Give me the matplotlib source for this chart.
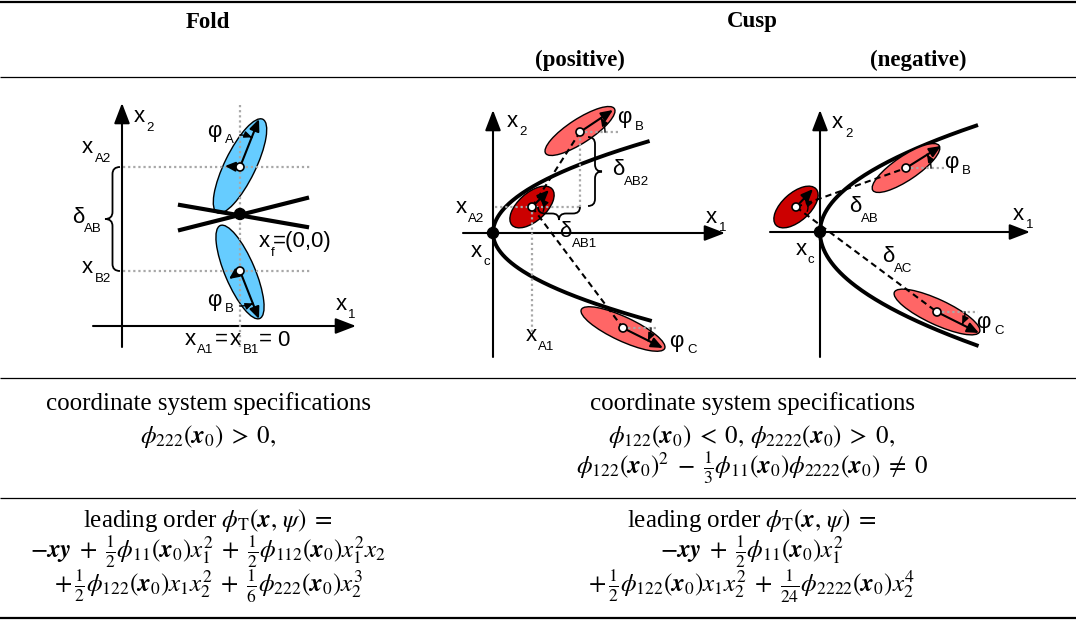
import numpy as np
import matplotlib as mpl
mpl.use("Agg")
import matplotlib.pyplot as plt
from matplotlib.patches import Ellipse, Circle, PathPatch
from matplotlib.path import Path

mpl.rcParams.update({
    "font.family": ["Liberation Serif", "DejaVu Serif"],
    "mathtext.fontset": "stix",
})

SANS = ["Liberation Sans", "DejaVu Sans"]
BLUE = "#66CCFF"
PINK = "#FF6666"
DARKRED = "#CC0000"
GREY = "#A8A8A8"

# ---- table text ----
HEADERS = ["Fold", "Cusp", "(positive)", "(negative)"]
HEADER_XY = [(208, 22), (752, 22), (580, 60), (918, 60)]
RULES_Y = [2, 77, 378, 498, 618]
RULES_W = [1.6, 0.9, 0.9, 0.9, 1.6]

FOLD_COND = ["coordinate system specifications",
             r"$\phi_{222}(\mathbfit{x}_0)\;>\;0,$"]
CUSP_COND = ["coordinate system specifications",
             r"$\phi_{122}(\mathbfit{x}_0)\;<\;0,\,\phi_{2222}(\mathbfit{x}_0)\;>\;0,$",
             r"$\phi_{122}(\mathbfit{x}_0)^2\;-\;\frac{1}{3}\phi_{11}(\mathbfit{x}_0)\phi_{2222}(\mathbfit{x}_0)\;\neq\;0$"]
FOLD_LEAD = [r"leading order $\phi_{\mathrm{T}}(\mathbfit{x},\,\psi)\;=$",
             r"$-\mathbfit{x}\mathbfit{y}\;+\;\frac{1}{2}\phi_{11}(\mathbfit{x}_0)x_1^2\;+\;\frac{1}{2}\phi_{112}(\mathbfit{x}_0)x_1^2x_2$",
             r"$+\,\frac{1}{2}\phi_{122}(\mathbfit{x}_0)x_1x_2^2\;+\;\frac{1}{6}\phi_{222}(\mathbfit{x}_0)x_2^3$"]
CUSP_LEAD = [r"leading order $\phi_{\mathrm{T}}(\mathbfit{x},\,\psi)\;=$",
             r"$-\mathbfit{x}\mathbfit{y}\;+\;\frac{1}{2}\phi_{11}(\mathbfit{x}_0)x_1^2$",
             r"$+\,\frac{1}{2}\phi_{122}(\mathbfit{x}_0)x_1x_2^2\;+\;\frac{1}{24}\phi_{2222}(\mathbfit{x}_0)x_2^4$"]
COND_Y = [404, 436, 468]
LEAD_Y = [520, 552, 586]
COL_X = [208, 752]

# ---- sketch geometry (pixel units) ----
# coordinate axes: (start, tip)
AXES_ARROWS = [((93, 326), (356, 326)), ((122, 347), (122, 103)),
               ((463, 233), (725, 233)), ((493, 357), (493, 110)),
               ((770, 232), (1030, 232)), ((820, 357), (820, 110))]
# fold: two crossing lines
FOLD_LINES = [((180, 205), (307, 227)), ((180, 230), (307, 198))]
# cusp parabolas: vertex, k_up, dy_up, k_down, dy_down
PARABOLAS = [((493, 233), 0.0185, 92, 0.0205, 88),
             ((820, 232), 0.0138, 107, 0.0122, 114)]
BLACK_DOTS = [(240, 214), (493, 233), (820, 232)]

# ellipses: centre, full length, full width, tilt (deg), colour
ELL_CENTRE = [(240, 166), (240, 272), (532, 207), (580, 131), (623, 329),
              (796, 207), (906, 168), (937, 312)]
ELL_LEN = [104, 101, 54, 82, 92, 54, 80, 94]
ELL_WID = [31, 30, 28, 24, 24, 28, 24, 25]
ELL_TILT = [64, 113, 42, 33, -25, 42, 34, -25]
ELL_COL = [BLUE, BLUE, DARKRED, PINK, PINK, DARKRED, PINK, PINK]

# state points (hollow) and their orientation arrows
STATE_PTS = [(240, 167), (240, 271), (532, 207), (580, 132), (623, 328),
             (796, 207), (906, 168), (937, 312)]
ARROW_END = [(259, 119), (259, 319), (549, 190), (613, 110), (663, 348),
             (813, 189), (941, 146), (979, 333)]
SHORT_ARROWS = [((240, 167), (225, 166)), ((240, 271), (229, 279))]
# angle arcs: centre, radius, from, to (deg, screen orientation)
ARCS = [((240, 167), 32, 90, 68), ((240, 271), 35, -90, -68),
        ((532, 207), 12, -20, 45), ((580, 132), 25, 0, 34),
        ((623, 328), 28, 0, -27), ((796, 207), 12, -20, 45),
        ((906, 168), 25, 0, 33), ((937, 312), 28, 0, -26)]

DOTTED = [((240, 105), (240, 347)), ((123, 167), (312, 167)), ((123, 271), (312, 271)),
          ((495, 207), (580, 207)), ((532, 207), (532, 332)), ((580, 207), (580, 132)),
          ((580, 132), (620, 132)), ((623, 328), (657, 328)),
          ((906, 168), (946, 168)), ((937, 312), (978, 312))]
DASHED = [((532, 207), (580, 132)), ((532, 207), (623, 328)),
          ((796, 207), (906, 168)), ((796, 207), (937, 312))]
# braces: start, end, tip direction, depth
BRACES = [((120, 167), (120, 271), (-1, 0), 15),
          ((588, 137), (588, 206), (1, 0), 14),
          ((538, 207), (580, 207), (0, 1), 13)]

# labels: main, subscript, main (left, baseline), sub (left, baseline)
LABELS = [
    ("x", "2", (134, 122), (146, 131)),
    ("x", "A2", (82, 153), (95, 162)),
    ("x", "B2", (82, 273), (95, 282)),
    ("δ", "AB", (72, 223), (84, 232)),
    ("x", "f", (259, 247), (271, 256)),
    ("x", "1", (336, 310), (348, 318)),
    ("φ", "A", (207, 137), (225, 143)),
    ("φ", "B", (207, 306), (225, 312)),
    ("x", "A1", (185, 345), (197, 353)),
    ("x", "B1", (230, 345), (243, 353)),
    ("x", "2", (507, 127), (519, 135)),
    ("x", "1", (706, 223), (719, 231)),
    ("x", "A2", (456, 213), (468, 222)),
    ("x", "c", (471, 257), (483, 265)),
    ("x", "A1", (526, 341), (538, 350)),
    ("δ", "AB2", (612, 175), (624, 185)),
    ("δ", "AB1", (559, 237), (572, 247)),
    ("φ", "B", (617, 123), (635, 130)),
    ("φ", "C", (669, 347), (687, 353)),
    ("x", "2", (832, 128), (845, 137)),
    ("x", "1", (1013, 220), (1026, 228)),
    ("x", "c", (796, 255), (808, 263)),
    ("δ", "AB", (849, 212), (861, 222)),
    ("δ", "AC", (882, 262), (894, 272)),
    ("φ", "B", (944, 168), (962, 174)),
    ("φ", "C", (976, 328), (994, 334)),
]
PLAIN_LABELS = [("=(0,0)", (273, 247)), ("=", (215, 345)), ("=", (259, 345)), ("0", (277, 346))]

fig = plt.figure(figsize=(10.76, 6.2), dpi=100, facecolor="white")
ax = fig.add_axes([0, 0, 1, 1])
ax.set_xlim(0, 1076)
ax.set_ylim(620, 0)
ax.axis("off")


def arrow(p0, p1, hl=0.7, hw=0.3, lw=1.4, ms=10, z=6):
    ax.annotate("", xy=p1, xytext=p0, zorder=z,
                arrowprops=dict(arrowstyle=f"-|>,head_length={hl},head_width={hw}",
                                lw=lw, color="k", shrinkA=0, shrinkB=0,
                                mutation_scale=ms))


def brace(p0, p1, tip, d, r=7):
    p0, p1 = np.array(p0, float), np.array(p1, float)
    L = np.linalg.norm(p1 - p0)
    u = (p1 - p0) / L
    v = np.array(tip, float)
    loc = [(0, 0), (0, d / 2), (r, d / 2), (L / 2 - r, d / 2), (L / 2, d / 2), (L / 2, d),
           (L / 2, d / 2), (L / 2 + r, d / 2), (L - r, d / 2), (L, d / 2), (L, 0)]
    codes = [Path.MOVETO, Path.CURVE3, Path.CURVE3, Path.LINETO, Path.CURVE3, Path.CURVE3,
             Path.CURVE3, Path.CURVE3, Path.LINETO, Path.CURVE3, Path.CURVE3]
    pts = [p0 + a * u + b * v for a, b in loc]
    ax.add_patch(PathPatch(Path(pts, codes), fill=False, lw=1.3, ec="k", zorder=6))


# table rules and text
for y, w in zip(RULES_Y, RULES_W):
    ax.plot([0, 1076], [y, y], color="k", lw=w, solid_capstyle="butt")
for txt, (x, y) in zip(HEADERS, HEADER_XY):
    ax.text(x, y, txt, ha="center", va="center", fontsize=16.5, fontweight="bold")
for col_x, rows, ys in [(COL_X[0], FOLD_COND, COND_Y), (COL_X[1], CUSP_COND, COND_Y),
                        (COL_X[0], FOLD_LEAD, LEAD_Y), (COL_X[1], CUSP_LEAD, LEAD_Y)]:
    for txt, y in zip(rows, ys):
        ax.text(col_x, y, txt, ha="center", va="center", fontsize=18)

# sketches
for p0, p1 in AXES_ARROWS:
    arrow(p0, p1, hl=1.25, hw=0.48, lw=1.5, ms=10, z=2)

for p0, p1 in FOLD_LINES:
    ax.plot([p0[0], p1[0]], [p0[1], p1[1]], color="k", lw=3, zorder=5)

for (vx, vy), ku, du, kd, dd in PARABOLAS:
    t = np.linspace(-du, dd, 200)
    k = np.where(t < 0, ku, kd)
    ax.plot(vx + k * t ** 2, vy + t, color="k", lw=2.8, zorder=3,
            solid_capstyle="butt")

for c, L, W, a, col in zip(ELL_CENTRE, ELL_LEN, ELL_WID, ELL_TILT, ELL_COL):
    ax.add_patch(Ellipse(c, L, W, angle=-a, fc=col, ec="k", lw=1.0, zorder=4))

for p0, p1 in DOTTED:
    ax.plot([p0[0], p1[0]], [p0[1], p1[1]], color=GREY, lw=1.6,
            linestyle=(0, (1, 1.3)), zorder=4.5)
for p0, p1 in DASHED:
    ax.plot([p0[0], p1[0]], [p0[1], p1[1]], color="k", lw=1.5,
            linestyle=(0, (3, 2)), zorder=4.6)

for p0, p1 in zip(STATE_PTS, ARROW_END):
    arrow(p0, p1, hl=0.7, hw=0.3, lw=1.5)
for p0, p1 in SHORT_ARROWS:
    arrow(p0, p1, hl=0.6, hw=0.28, lw=1.5)

for (cx, cy), r, t0, t1 in ARCS:
    t = np.radians(np.linspace(t0, t1, 30))
    xs, ys = cx + r * np.cos(t), cy - r * np.sin(t)
    ax.plot(xs, ys, color="k", lw=1.0, zorder=6)
    arrow((xs[-4], ys[-4]), (xs[-1], ys[-1]), hl=0.5, hw=0.22, lw=1.0, ms=9)

for p0, p1, tip, d in BRACES:
    brace(p0, p1, tip, d)

for c in BLACK_DOTS:
    ax.add_patch(Circle(c, 5.5, fc="k", ec="k", zorder=7))
for c in STATE_PTS:
    ax.add_patch(Circle(c, 4, fc="white", ec="k", lw=1.2, zorder=8))

for main, sub, (mx, my), (sx, sy) in LABELS:
    ax.text(mx, my, main, family=SANS, fontsize=16, va="baseline", ha="left", zorder=9)
    ax.text(sx, sy, sub, family=SANS, fontsize=9.5, va="baseline", ha="left", zorder=9)
for txt, (x, y) in PLAIN_LABELS:
    ax.text(x, y, txt, family=SANS, fontsize=16, va="baseline", ha="left", zorder=9)

fig.savefig("out.png", dpi=100, facecolor="white")
plt.close()
